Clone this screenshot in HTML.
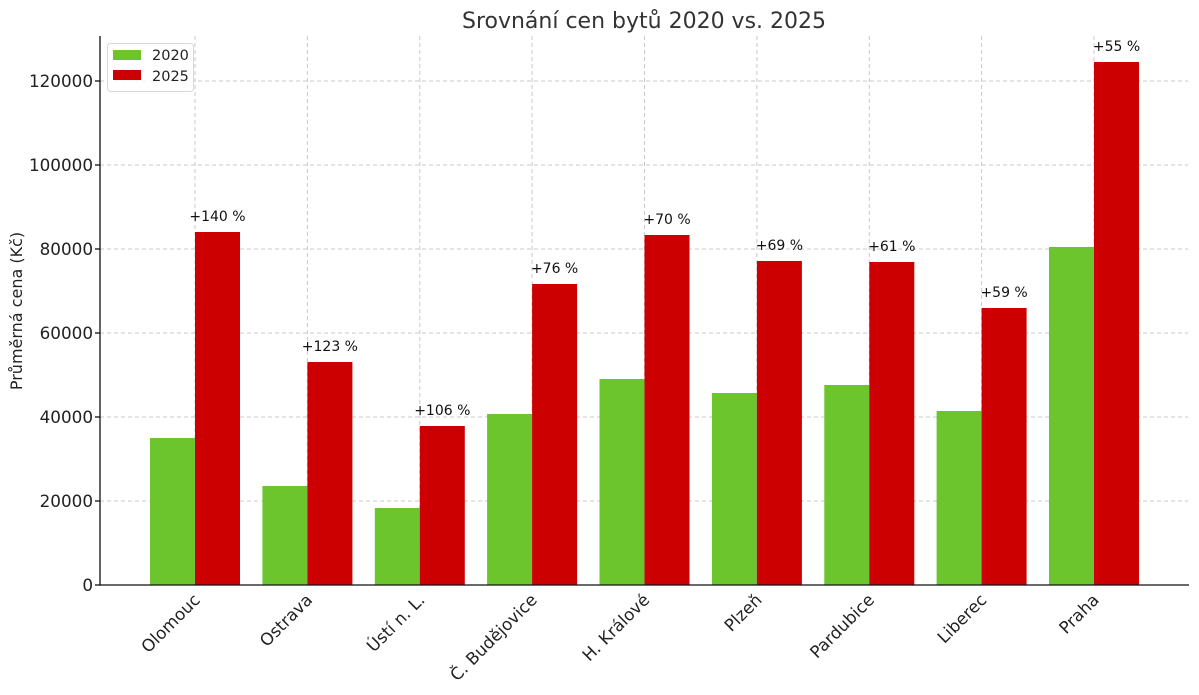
<!DOCTYPE html>
<html><head><meta charset="utf-8"><style>
html,body{margin:0;padding:0;background:#fff;}
svg{display:block;font-family:"DejaVu Sans","Liberation Sans",sans-serif;}
</style></head><body>
<svg width="1199" height="695" viewBox="0 0 1199 695" xmlns="http://www.w3.org/2000/svg">
<rect width="1199" height="695" fill="#fff"/>
<text x="644" y="28" font-size="22" fill="#333" text-anchor="middle">Srovnání cen bytů 2020 vs. 2025</text>
<g stroke="#c8c8c8" stroke-width="1" stroke-dasharray="4,3">
<line x1="100" x2="1188" y1="501" y2="501"/>
<line x1="100" x2="1188" y1="417" y2="417"/>
<line x1="100" x2="1188" y1="333" y2="333"/>
<line x1="100" x2="1188" y1="249" y2="249"/>
<line x1="100" x2="1188" y1="165" y2="165"/>
<line x1="100" x2="1188" y1="81" y2="81"/>
<line x1="195" x2="195" y1="36" y2="585"/>
<line x1="307.4" x2="307.4" y1="36" y2="585"/>
<line x1="419.8" x2="419.8" y1="36" y2="585"/>
<line x1="532.1" x2="532.1" y1="36" y2="585"/>
<line x1="644.5" x2="644.5" y1="36" y2="585"/>
<line x1="756.9" x2="756.9" y1="36" y2="585"/>
<line x1="869.3" x2="869.3" y1="36" y2="585"/>
<line x1="981.6" x2="981.6" y1="36" y2="585"/>
<line x1="1094" x2="1094" y1="36" y2="585"/>
</g>
<g fill="#6cc52c">
<rect x="150" y="438" width="45" height="147"/>
<rect x="262.4" y="486" width="45" height="99"/>
<rect x="374.8" y="508" width="45" height="77"/>
<rect x="487.1" y="414" width="45" height="171"/>
<rect x="599.5" y="379" width="45" height="206"/>
<rect x="711.9" y="393" width="45" height="192"/>
<rect x="824.3" y="385" width="45" height="200"/>
<rect x="936.6" y="411" width="45" height="174"/>
<rect x="1049" y="247" width="45" height="338"/>
</g>
<g fill="#cc0000">
<rect x="195" y="232" width="45" height="353"/>
<rect x="307.4" y="362" width="45" height="223"/>
<rect x="419.8" y="426" width="45" height="159"/>
<rect x="532.1" y="284" width="45" height="301"/>
<rect x="644.5" y="235" width="45" height="350"/>
<rect x="756.9" y="261" width="45" height="324"/>
<rect x="869.3" y="262" width="45" height="323"/>
<rect x="981.6" y="308" width="45" height="277"/>
<rect x="1094" y="62" width="45" height="523"/>
</g>
<g font-size="14" fill="#111" text-anchor="middle">
<text x="217.5" y="221">+140 %</text>
<text x="329.9" y="351">+123 %</text>
<text x="442.3" y="415">+106 %</text>
<text x="554.6" y="273">+76 %</text>
<text x="667" y="224">+70 %</text>
<text x="779.4" y="250">+69 %</text>
<text x="891.8" y="251">+61 %</text>
<text x="1004.1" y="297">+59 %</text>
<text x="1116.5" y="51">+55 %</text>
</g>
<g stroke="#111" stroke-width="1.3">
<line x1="100" x2="100" y1="36" y2="585.6"/>
<line x1="99.4" x2="1189" y1="585" y2="585"/>
<line x1="95" x2="100" y1="585" y2="585"/>
<line x1="95" x2="100" y1="501" y2="501"/>
<line x1="95" x2="100" y1="417" y2="417"/>
<line x1="95" x2="100" y1="333" y2="333"/>
<line x1="95" x2="100" y1="249" y2="249"/>
<line x1="95" x2="100" y1="165" y2="165"/>
<line x1="95" x2="100" y1="81" y2="81"/>
</g>
<g font-size="16.8" fill="#222" text-anchor="end">
<text x="93" y="591">0</text>
<text x="93" y="507">20000</text>
<text x="93" y="423">40000</text>
<text x="93" y="339">60000</text>
<text x="93" y="255">80000</text>
<text x="93" y="171">100000</text>
<text x="93" y="87">120000</text>
</g>
<text transform="translate(22,311) rotate(-90)" font-size="16" fill="#222" text-anchor="middle">Průměrná cena (Kč)</text>
<g font-size="16.8" fill="#222" text-anchor="end">
<text transform="translate(201,601) rotate(-45)">Olomouc</text>
<text transform="translate(313.4,601) rotate(-45)">Ostrava</text>
<text transform="translate(425.8,601) rotate(-45)">Ústí n. L.</text>
<text transform="translate(538.1,601) rotate(-45)">Č. Budějovice</text>
<text transform="translate(650.5,601) rotate(-45)">H. Králové</text>
<text transform="translate(762.9,601) rotate(-45)">Plzeň</text>
<text transform="translate(875.3,601) rotate(-45)">Pardubice</text>
<text transform="translate(987.6,601) rotate(-45)">Liberec</text>
<text transform="translate(1100,601) rotate(-45)">Praha</text>
</g>
<rect x="107.5" y="43.5" width="86" height="48" rx="3" fill="#fff" fill-opacity="0.85" stroke="#d8d8d8"/>
<rect x="113" y="50" width="28" height="10" fill="#6cc52c"/>
<rect x="113" y="70" width="28" height="10" fill="#cc0000"/>
<text x="152" y="60" font-size="14.5" fill="#222">2020</text>
<text x="152" y="81" font-size="14.5" fill="#222">2025</text>
</svg>
</body></html>
